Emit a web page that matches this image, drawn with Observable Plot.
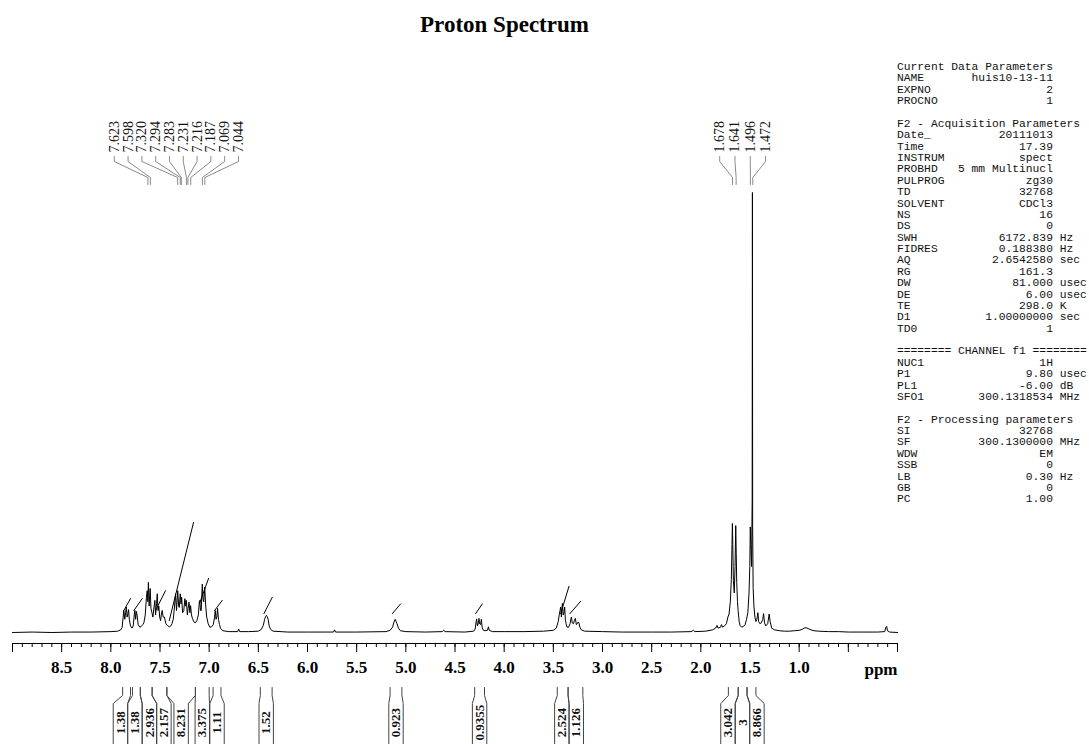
<!DOCTYPE html>
<html><head><meta charset="utf-8">
<script src="https://cdn.jsdelivr.net/npm/d3@7"></script>
<script src="https://cdn.jsdelivr.net/npm/@observablehq/plot@0.6"></script>
<style>
body{margin:0;background:#fff;}
#wrap{position:relative;width:1089px;height:744px;overflow:hidden;background:#fff;}
#wrap svg{position:absolute;left:0;top:0;}
#title{position:absolute;left:0;top:12px;width:1009px;text-align:center;font:bold 23px "Liberation Serif",serif;color:#000;}
#params{position:absolute;left:897px;top:62px;margin:0;font:11.3px "Liberation Mono",monospace;line-height:11.37px;white-space:pre;color:#111;}
</style></head>
<body><div id="wrap"><div id="title">Proton Spectrum</div><pre id="params"></pre></div>
<script>
// ---------------- data ----------------
const spectrumPoints = [
[9.00,0.000],[8.80,0.001],[8.60,0.000],[8.40,0.001],[8.20,0.001],[8.00,0.002],[7.93,0.003],[7.90,0.006],
[7.885,0.012],[7.875,0.035],[7.868,0.050],[7.858,0.030],[7.850,0.045],[7.842,0.058],[7.835,0.035],[7.828,0.040],[7.820,0.052],[7.812,0.030],[7.800,0.015],[7.785,0.010],
[7.772,0.015],[7.762,0.040],[7.755,0.050],[7.748,0.030],[7.740,0.048],[7.732,0.038],[7.722,0.018],[7.705,0.012],[7.690,0.014],[7.675,0.018],[7.664,0.022],
[7.650,0.040],[7.638,0.080],[7.630,0.095],[7.624,0.070],[7.618,0.114],[7.610,0.060],[7.600,0.100],[7.592,0.055],[7.582,0.045],[7.572,0.035],[7.560,0.060],[7.552,0.073],[7.545,0.040],[7.535,0.065],[7.528,0.088],[7.520,0.050],[7.512,0.060],[7.503,0.035],[7.494,0.027],[7.484,0.045],[7.477,0.050],[7.468,0.035],[7.455,0.035],[7.440,0.020],[7.426,0.016],[7.405,0.013],[7.393,0.014],[7.378,0.020],[7.365,0.030],[7.352,0.060],[7.342,0.088],[7.332,0.050],[7.320,0.095],[7.310,0.060],[7.304,0.057],[7.294,0.088],[7.286,0.065],[7.280,0.080],[7.270,0.045],[7.258,0.050],[7.247,0.077],[7.240,0.060],[7.232,0.073],[7.222,0.040],[7.214,0.055],[7.205,0.069],[7.196,0.045],[7.189,0.061],[7.180,0.040],[7.170,0.032],[7.155,0.024],[7.140,0.022],[7.125,0.027],[7.110,0.040],[7.100,0.070],[7.095,0.073],[7.088,0.050],[7.081,0.050],[7.070,0.110],[7.062,0.075],[7.055,0.070],[7.045,0.103],[7.035,0.060],[7.025,0.035],[7.010,0.020],[6.993,0.012],[6.975,0.013],[6.958,0.018],[6.945,0.035],[6.938,0.050],[6.930,0.030],[6.922,0.035],[6.915,0.055],[6.905,0.030],[6.895,0.018],[6.884,0.009],[6.860,0.004],[6.800,0.002],[6.710,0.002],[6.700,0.008],[6.690,0.002],[6.600,0.002],[6.500,0.003],[6.470,0.007],[6.450,0.016],[6.436,0.030],[6.425,0.037],[6.418,0.039],[6.410,0.036],[6.400,0.030],[6.390,0.015],[6.375,0.007],[6.350,0.003],[6.200,0.001],
[6.00,0.001],[5.80,0.001],[5.735,0.001],[5.725,0.006],[5.715,0.001],[5.50,0.001],[5.20,0.002],[5.16,0.005],[5.135,0.012],[5.120,0.024],[5.108,0.030],[5.100,0.026],[5.090,0.020],[5.075,0.010],[5.055,0.004],[5.00,0.002],[4.80,0.001],[4.63,0.002],[4.615,0.005],[4.60,0.002],[4.40,0.001],[4.31,0.003],[4.295,0.008],[4.285,0.025],[4.280,0.031],[4.272,0.015],[4.262,0.022],[4.256,0.032],[4.250,0.020],[4.240,0.018],[4.232,0.030],[4.224,0.012],[4.212,0.005],[4.195,0.004],[4.170,0.005],[4.160,0.013],[4.152,0.005],[4.120,0.002],[4.00,0.002],[3.80,0.002],[3.60,0.003],[3.50,0.005],[3.470,0.010],[3.450,0.025],[3.440,0.040],[3.432,0.050],[3.425,0.058],[3.418,0.035],[3.412,0.055],[3.408,0.066],[3.400,0.040],[3.392,0.045],[3.385,0.058],[3.378,0.030],[3.370,0.020],[3.360,0.012],[3.345,0.012],[3.330,0.020],[3.322,0.030],[3.316,0.035],[3.308,0.022],[3.296,0.020],[3.285,0.028],[3.276,0.032],[3.266,0.018],[3.256,0.020],[3.248,0.024],[3.240,0.022],[3.230,0.012],[3.215,0.006],[3.180,0.003],[3.00,0.002],[2.80,0.001],[2.50,0.001],[2.30,0.001],[2.10,0.002],[2.075,0.005],[2.060,0.002],[1.95,0.003],[1.88,0.006],[1.850,0.010],[1.835,0.016],[1.825,0.010],[1.800,0.012],[1.790,0.018],[1.780,0.012],[1.760,0.015],[1.740,0.020],[1.725,0.035],[1.713,0.042],[1.700,0.070],[1.690,0.120],[1.683,0.200],[1.679,0.248],[1.675,0.200],[1.669,0.118],[1.660,0.090],[1.652,0.150],[1.645,0.243],[1.640,0.180],[1.635,0.114],[1.627,0.070],[1.621,0.050],[1.610,0.025],[1.601,0.016],[1.584,0.012],[1.565,0.014],[1.550,0.018],[1.535,0.030],[1.522,0.045],[1.510,0.090],[1.502,0.150],[1.497,0.240],[1.492,0.200],[1.484,0.150],[1.478,0.300],[1.4755,1.000],[1.473,0.240],[1.468,0.100],[1.460,0.060],[1.450,0.035],[1.440,0.025],[1.430,0.030],[1.420,0.045],[1.412,0.025],[1.400,0.020],[1.385,0.022],[1.370,0.030],[1.362,0.043],[1.352,0.022],[1.340,0.015],[1.320,0.020],[1.305,0.042],[1.295,0.025],[1.280,0.010],[1.250,0.006],[1.200,0.004],[1.150,0.003],[1.100,0.003],[1.050,0.004],[1.000,0.005],[0.970,0.007],[0.950,0.010],[0.930,0.011],[0.910,0.009],[0.880,0.006],[0.850,0.004],[0.800,0.003],[0.700,0.002],[0.600,0.002],[0.500,0.001],[0.400,0.001],[0.300,0.001],[0.200,0.001],[0.130,0.002],[0.118,0.012],[0.110,0.014],[0.102,0.004],[0.080,0.001],[0.000,0.000]
];

// peak picking labels
const peaksAromatic = [7.623,7.598,7.320,7.294,7.283,7.231,7.216,7.187,7.069,7.044];
const peaksAliphatic = [1.678,1.641,1.496,1.472];

// integral traces drawn over the spectrum
const integralStartPpm = [7.868,7.766,7.545,7.406,7.098,6.945,6.443,5.137,4.290,3.425,3.331];
const integralEndPpm   = [7.800,7.681,7.444,7.159,7.006,6.867,6.358,5.053,4.222,3.341,3.222];
const integralStartH   = [0.050,0.050,0.050,0.027,0.066,0.050,0.043,0.043,0.043,0.043,0.043];
const integralEndH     = [0.077,0.077,0.095,0.250,0.123,0.073,0.080,0.065,0.065,0.105,0.071];

// integral regions and values below the axis
const integralFrom   = [7.88,7.78,7.70,7.58,7.43,7.14,6.96,6.48,5.16,4.30,3.46,3.35,1.72,1.62,1.53];
const integralTo     = [7.80,7.70,7.58,7.43,7.14,7.00,6.88,6.36,5.04,4.20,3.35,3.20,1.62,1.53,1.44];
const integralValues = ["1.38","1.38","2.936","2.157","8.231","3.375","1.11","1.52","0.923","0.9355","2.524","1.126","3.042","3","8.866"];

// axis
const tickLabelValues = [8.5,8.0,7.5,7.0,6.5,6.0,5.5,5.0,4.5,4.0,3.5,3.0,2.5,2.0,1.5,1.0];
const axisUnit = "ppm";

// parameter listing
const dataParamNames = ["NAME","EXPNO","PROCNO"];
const dataParamValues = ["huis10-13-11","2","1"];
const acqNames = ["Date_","Time","INSTRUM","PROBHD","PULPROG","TD","SOLVENT","NS","DS","SWH","FIDRES","AQ","RG","DW","DE","TE","D1","TD0"];
const acqValues = ["20111013","17.39","spect","5 mm Multinucl","zg30","32768","CDCl3","16","0","6172.839","0.188380","2.6542580","161.3","81.000","6.00","298.0","1.00000000","1"];
const acqUnits = ["","","","","","","","","","Hz","Hz","sec","","usec","usec","K","sec",""];
const chanNames = ["NUC1","P1","PL1","SFO1"];
const chanValues = ["1H","9.80","-6.00","300.1318534"];
const chanUnits = ["","usec","dB","MHz"];
const procNames = ["SI","SF","WDW","SSB","LB","GB","PC"];
const procValues = ["32768","300.1300000","EM","0","0.30","0","1.00"];
const procUnits = ["","MHz","","","Hz","",""];

// ---------------- parameter panel ----------------
const fmt = (n,v,u) => n + v.padStart(23 - n.length) + (u ? " " + u : "");
const lines = [];
lines.push("Current Data Parameters");
dataParamNames.forEach((n,i)=>lines.push(fmt(n,dataParamValues[i],"")));
lines.push("");
lines.push("F2 - Acquisition Parameters");
acqNames.forEach((n,i)=>lines.push(fmt(n,acqValues[i],acqUnits[i])));
lines.push("");
lines.push("======== CHANNEL f1 ========");
chanNames.forEach((n,i)=>lines.push(fmt(n,chanValues[i],chanUnits[i])));
lines.push("");
lines.push("F2 - Processing parameters");
procNames.forEach((n,i)=>lines.push(fmt(n,procValues[i],procUnits[i])));
document.getElementById("params").textContent = lines.join("\n");

// ---------------- layout helpers ----------------
const W = 1089, H = 744;
const ML = 12, MR = 192, MT = 192, MB = 101;
const BASE_PX = 632, UNIT_PX = 440;           // zero-intensity line and px per unit
const yv = px => (BASE_PX - px) / UNIT_PX;    // pixel row -> y units
const xpx = d3.scaleLinear([9,0],[ML, W - MR]); // mirrors the Plot x scale

const spectrum = spectrumPoints.map(([ppm,h]) => ({ppm, h}));

function labelPositions(peaks, spacing){
  const c = (d3.max(peaks) + d3.min(peaks)) / 2;
  const cpx = xpx(c), n = peaks.length;
  return peaks.map((p,i) => xpx.invert(cpx + (i - (n-1)/2) * spacing));
}
const peakLabels = [];
const leaders = [];
[[peaksAromatic,13.8],[peaksAliphatic,15.3]].forEach(([peaks,sp],g)=>{
  const lx = labelPositions(peaks, sp);
  peaks.forEach((p,i)=>{
    const id = g + "-" + i;
    peakLabels.push({x: lx[i], text: p.toFixed(3)});
    leaders.push({id, x: lx[i], y: yv(156)}, {id, x: lx[i], y: yv(161)},
                 {id, x: p, y: yv(177)}, {id, x: p, y: yv(184)});
  });
});

const integralCurves = [];
integralStartPpm.forEach((s,i)=>{
  integralCurves.push({id:i, x:s, y:integralStartH[i]}, {id:i, x:integralEndPpm[i], y:integralEndH[i]});
});

// spread integral labels so they don't overlap
function dodge(centers, gap){
  const p = centers.slice();
  for (let it=0; it<300; it++) for (let i=1;i<p.length;i++){
    const d = p[i]-p[i-1];
    if (d < gap){ const s=(gap-d)/2; p[i-1]-=s; p[i]+=s; }
  }
  return p;
}
const mids = integralFrom.map((f,i)=> (xpx(f)+xpx(integralTo[i]))/2);
const labPx = dodge(mids, 14.5);
const HALF = 7.2;
const brackets = [], bracketText = [];
integralFrom.forEach((f,i)=>{
  const t = integralTo[i];
  const L = xpx.invert(labPx[i]-HALF), R = xpx.invert(labPx[i]+HALF);
  brackets.push({id:"L"+i,x:f,y:yv(687)},{id:"L"+i,x:f,y:yv(695)},{id:"L"+i,x:L,y:yv(703)},{id:"L"+i,x:L,y:yv(744)});
  brackets.push({id:"R"+i,x:t,y:yv(687)},{id:"R"+i,x:t,y:yv(695)},{id:"R"+i,x:R,y:yv(703)},{id:"R"+i,x:R,y:yv(744)});
  bracketText.push({x: xpx.invert(labPx[i]), text: integralValues[i]});
});

const majorTicks = d3.range(0, 91, 5).map(d => d/10);
const minorTicks = d3.range(0, 91, 1).map(d => d/10);
const serif = "Liberation Serif, Times New Roman, serif";

const chart = Plot.plot({
  width: W, height: H,
  marginLeft: ML, marginRight: MR, marginTop: MT, marginBottom: MB,
  x: {domain: [9, 0], axis: null},
  y: {domain: [yv(643), 1], axis: null},
  style: {background: "transparent", overflow: "visible", color: "#000", fontFamily: serif},
  marks: [
    Plot.ruleY([yv(643)], {stroke: "#000", strokeWidth: 1}),
    Plot.axisX(minorTicks, {anchor: "bottom", tickSize: 4, tickFormat: () => "", label: null, stroke: "#000"}),
    Plot.axisX(majorTicks, {anchor: "bottom", tickSize: 9, tickPadding: 8, label: null, stroke: "#000",
      tickFormat: d => tickLabelValues.some(v => Math.abs(v - d) < 1e-6) ? d.toFixed(1) : "",
      fontSize: 17, fontWeight: "bold", fontFamily: serif}),
    Plot.text([axisUnit], {text: d => d, frameAnchor: "bottom-right", textAnchor: "end", lineAnchor: "top",
      dy: 19, fontSize: 17, fontWeight: "bold", fontFamily: serif, fill: "#000"}),
    Plot.line(spectrum, {x: "ppm", y: "h", stroke: "#000", strokeWidth: 1}),
    Plot.line(integralCurves, {x: "x", y: "y", z: "id", stroke: "#000", strokeWidth: 1}),
    Plot.line(leaders, {x: "x", y: "y", z: "id", stroke: "#8a8a8a", strokeWidth: 1}),
    Plot.text(peakLabels, {x: "x", text: "text", frameAnchor: "top", dy: 152 - MT, rotate: -90,
      textAnchor: "start", lineAnchor: "middle", fontSize: 14, fontFamily: serif, fill: "#111"}),
    Plot.line(brackets, {x: "x", y: "y", z: "id", stroke: "#444", strokeWidth: 1}),
    Plot.text(bracketText, {x: "x", y: () => yv(722), text: "text", rotate: -90,
      textAnchor: "middle", lineAnchor: "middle", fontSize: 13, fontWeight: "bold", fontFamily: serif, fill: "#111"})
  ]
});
document.getElementById("wrap").insertBefore(chart, document.getElementById("title"));
</script>
</body></html>
